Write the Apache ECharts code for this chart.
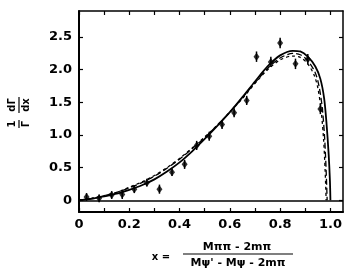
<!DOCTYPE html>
<html><head><meta charset="utf-8">
<script src="https://cdn.jsdelivr.net/npm/echarts@6/dist/echarts.min.js"></script>
<style>html,body{margin:0;padding:0;background:#fff}#c{width:354px;height:279px}</style>
</head><body><div id="c"></div>
<script>
// Data points (x, 1/Γ dΓ/dx) with estimated error bars
const ptX = [0.03,0.08,0.13,0.172,0.22,0.27,0.32,0.37,0.42,0.468,0.518,0.569,0.617,0.667,0.706,0.763,0.80,0.861,0.91,0.96];
const ptY = [0.05,0.03,0.08,0.09,0.17,0.27,0.17,0.43,0.55,0.84,0.98,1.16,1.34,1.53,2.20,2.12,2.41,2.09,2.16,1.40];
const ptErr = [0.06,0.06,0.06,0.07,0.06,0.06,0.07,0.06,0.07,0.07,0.07,0.07,0.07,0.07,0.08,0.08,0.08,0.08,0.08,0.08];
// Solid theory curve
const solidX = [0,0.05,0.1,0.15,0.2,0.25,0.3,0.35,0.4,0.45,0.5,0.55,0.6,0.65,0.7,0.75,0.8,0.85,0.88,0.91,0.94,0.96,0.975,0.985,0.993,0.998,1.0];
const solidY = [0,0.02,0.06,0.1,0.16,0.23,0.32,0.44,0.58,0.75,0.94,1.14,1.35,1.58,1.82,2.05,2.22,2.29,2.28,2.2,2.05,1.86,1.56,1.15,0.7,0.3,0];
// Dashed curve A
const dashAX = [0,0.05,0.1,0.15,0.2,0.25,0.3,0.35,0.4,0.45,0.5,0.55,0.6,0.65,0.7,0.75,0.8,0.85,0.88,0.91,0.94,0.955,0.968,0.977,0.983,0.987];
const dashAY = [0,0.03,0.07,0.12,0.19,0.27,0.37,0.49,0.63,0.79,0.96,1.15,1.35,1.57,1.8,2.02,2.18,2.25,2.23,2.14,1.95,1.74,1.4,0.95,0.45,0];
// Dashed curve B
const dashBX = [0,0.05,0.1,0.15,0.2,0.25,0.3,0.35,0.4,0.45,0.5,0.55,0.6,0.65,0.7,0.75,0.8,0.85,0.88,0.91,0.935,0.95,0.963,0.973,0.979,0.983];
const dashBY = [0,0.03,0.07,0.12,0.2,0.28,0.38,0.5,0.64,0.8,0.97,1.15,1.35,1.56,1.79,2.0,2.15,2.21,2.19,2.09,1.92,1.72,1.38,0.92,0.45,0];
// Ticks
const xLabelVals = [0,0.2,0.4,0.6,0.8,1.0];
const xLabelText = ['0','0.2','0.4','0.6','0.8','1.0'];
const xTickVals = [0,0.1,0.2,0.3,0.4,0.5,0.6,0.7,0.8,0.9,1.0];
const yTickVals = [0,0.5,1,1.5,2,2.5];
const yLabelText = ['0','0.5','1.0','1.5','2.0','2.5'];

const zip = (a,b)=>a.map((v,i)=>[v,b[i]]);
const FONT = 'DejaVu Sans';
const lblStyle = {color:'#000', fontFamily:FONT, fontWeight:'bold', fontSize:13};

const chart = echarts.init(document.getElementById('c'), null, {renderer:'canvas'});
const xCommon = {type:'value', min:0, max:1.05, splitLine:{show:false}};
const yCommon = {type:'value', min:-0.18, max:2.9, splitLine:{show:false}};
chart.setOption({
  animation:false,
  backgroundColor:'#fff',
  grid:{left:79, right:11, top:11, bottom:67},
  xAxis:[
    Object.assign({}, xCommon, {position:'bottom',
      axisLine:{show:true, onZero:false, lineStyle:{color:'#000', width:2}},
      axisTick:{show:true, inside:true, length:4, customValues:xTickVals, lineStyle:{color:'#000', width:1.2}},
      axisLabel:Object.assign({show:true, margin:6, customValues:xLabelVals,
        formatter:v=>{const i=xLabelVals.findIndex(t=>Math.abs(t-v)<1e-6); return i>=0?xLabelText[i]:'';}}, lblStyle)}),
    Object.assign({}, xCommon, {position:'top',
      axisLine:{show:true, onZero:false, lineStyle:{color:'#000', width:1.5}},
      axisTick:{show:true, inside:true, length:4, customValues:xTickVals, lineStyle:{color:'#000', width:1.2}},
      axisLabel:{show:false}})
  ],
  yAxis:[
    Object.assign({}, yCommon, {position:'left',
      axisLine:{show:true, onZero:false, lineStyle:{color:'#000', width:2}},
      axisTick:{show:true, inside:true, length:4, customValues:yTickVals, lineStyle:{color:'#000', width:1.2}},
      axisLabel:Object.assign({show:true, margin:7, customValues:yTickVals,
        formatter:v=>{const i=yTickVals.findIndex(t=>Math.abs(t-v)<1e-6); return i>=0?yLabelText[i]:'';}}, lblStyle)}),
    Object.assign({}, yCommon, {position:'right',
      axisLine:{show:true, onZero:false, lineStyle:{color:'#000', width:1.5}},
      axisTick:{show:true, inside:true, length:4, customValues:yTickVals, lineStyle:{color:'#000', width:1.2}},
      axisLabel:{show:false}})
  ],
  series:[
    {type:'line', data:zip(solidX,solidY), showSymbol:false, smooth:0.3,
      lineStyle:{color:'#000', width:1.8}, silent:true,
      markLine:{silent:true, symbol:'none', label:{show:false},
        lineStyle:{color:'#000', width:1.5, type:'solid'}, data:[{yAxis:0}]}},
    {type:'line', data:zip(dashAX,dashAY), showSymbol:false, smooth:0.3,
      lineStyle:{color:'#000', width:1.3, type:[6,3]}, silent:true},
    {type:'line', data:zip(dashBX,dashBY), showSymbol:false, smooth:0.3,
      lineStyle:{color:'#000', width:1.3, type:[3,3]}, silent:true},
    {type:'custom', silent:true, z:4,
      data:ptX.map((x,i)=>[x, ptY[i]-ptErr[i], ptY[i]+ptErr[i]]),
      renderItem:(params, api)=>{
        const lo = api.coord([api.value(0), api.value(1)]);
        const hi = api.coord([api.value(0), api.value(2)]);
        return {type:'line', shape:{x1:lo[0], y1:lo[1], x2:hi[0], y2:hi[1]},
          style:{stroke:'#000', lineWidth:1.5}};
      }},
    {type:'scatter', data:zip(ptX,ptY), symbol:'diamond', symbolSize:[6,8],
      itemStyle:{color:'#000'}, z:5}
  ],
  graphic:[
    {type:'group', x:19, y:115, rotation:Math.PI/2, children:[
      {type:'text', x:-9, y:-7, style:{text:'1', font:'bold 10px "DejaVu Sans"', fill:'#000', align:'center', verticalAlign:'middle'}},
      {type:'line', shape:{x1:-13, y1:0, x2:-5, y2:0}, style:{stroke:'#000', lineWidth:1.2}},
      {type:'text', x:-9, y:7, style:{text:'Γ', font:'bold 10px "DejaVu Sans"', fill:'#000', align:'center', verticalAlign:'middle'}},
      {type:'text', x:10, y:-7, style:{text:'dΓ', font:'bold 10px "DejaVu Sans"', fill:'#000', align:'center', verticalAlign:'middle'}},
      {type:'line', shape:{x1:2, y1:0, x2:18, y2:0}, style:{stroke:'#000', lineWidth:1.2}},
      {type:'text', x:10, y:7, style:{text:'dx', font:'bold 10px "DejaVu Sans"', fill:'#000', align:'center', verticalAlign:'middle'}}
    ]},
    {type:'text', x:161, y:257, style:{text:'x =', font:'bold 10px "DejaVu Sans"', fill:'#000', align:'center', verticalAlign:'middle'}},
    {type:'text', x:237, y:247, style:{text:'Mππ - 2mπ', font:'bold 11px "DejaVu Sans"', fill:'#000', align:'center', verticalAlign:'middle'}},
    {type:'line', shape:{x1:183, y1:254, x2:293, y2:254}, style:{stroke:'#000', lineWidth:1.2}},
    {type:'text', x:238, y:263, style:{text:'Mψ\' - Mψ - 2mπ', font:'bold 11px "DejaVu Sans"', fill:'#000', align:'center', verticalAlign:'middle'}}
  ]
});
</script></body></html>
